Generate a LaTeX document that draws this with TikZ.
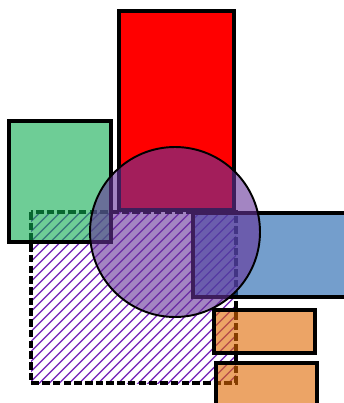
\documentclass[tikz,border=0pt]{standalone}
\usepackage{tikz}
\usetikzlibrary{patterns.meta}
\definecolor{box_red}{RGB}{255, 0, 0}
\definecolor{box_green}{RGB}{13, 172, 80}
\definecolor{box_blue}{RGB}{23, 93, 170}
\definecolor{box_orange}{RGB}{223, 103, 0}
\definecolor{ring_purple}{RGB}{102, 51, 153}
\definecolor{hatch_purple}{RGB}{128, 56, 190}

\begin{document}
\begin{tikzpicture}[x=0.02cm, y=-0.02cm,
      box/.style={draw=black, line width=2.2pt},
      seethru/.style={box, fill opacity=0.6},
      hatched/.style={draw=black, line width=2.2pt, dash pattern=on 4.3pt off 1.8pt,
        pattern={Lines[angle=45, distance=4pt, line width=0.9pt]}, pattern color=hatch_purple},
      ring/.style={draw=black, line width=1.1pt, fill=ring_purple, fill opacity=0.6}]
    \useasboundingbox (0,0) rectangle (344,403);
    \clip (0,0) rectangle (344,403);
    \draw[box, fill=box_red] (119,11) rectangle (234,210);
    \draw[hatched] (31,212) rectangle (236,383);
    \draw[seethru, fill=box_green] (9,121) rectangle (111,242);
    \draw[seethru, fill=box_blue] (193,213) rectangle (346,297);
    \draw[seethru, fill=box_orange] (214,310) rectangle (315,353);
    \draw[seethru, fill=box_orange] (216,363) rectangle (317,410);
    \draw[ring] (175,232) circle (85);
  \end{tikzpicture}
\end{document}
